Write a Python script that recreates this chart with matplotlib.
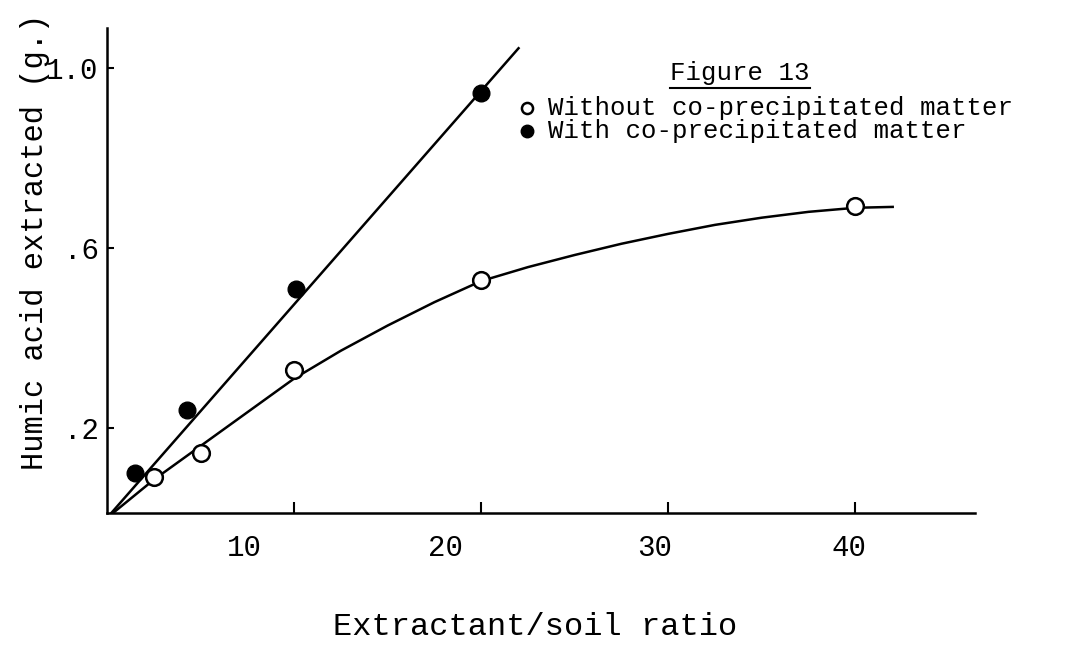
import matplotlib
matplotlib.use('Agg')
import matplotlib.pyplot as plt
from matplotlib.transforms import ScaledTranslation

# data
ratio_without = [2.5, 5, 10, 20, 40]
humic_without = [0.09, 0.145, 0.33, 0.53, 0.695]
ratio_with = [1.5, 4.3, 10.1, 20]
humic_with = [0.10, 0.24, 0.51, 0.945]

# hand drawn curve through the open circles
curve_x = [0, 2.5, 5, 7.5, 10, 12.5, 15, 17.5, 20, 22.5, 25, 27.5, 30,
           32.5, 35, 37.5, 40, 42]
curve_y = [0, 0.085, 0.16, 0.235, 0.31, 0.372, 0.428, 0.48, 0.527, 0.558,
           0.585, 0.61, 0.632, 0.652, 0.668, 0.681, 0.69, 0.692]
# straight line through the filled circles
line_x = [0, 22.0]
line_y = [0, 1.045]

xticks = [10, 20, 30, 40]
xticklabels = ['10', '20', '30', '40']
yticks = [0.2, 0.6, 1.0]
yticklabels = ['.2', '.6', '1.0']

mono = 'Liberation Mono'

fig = plt.figure(figsize=(10.78, 6.69), dpi=100)
ax = fig.add_axes([107/1078, 1 - 513/669, (975-107)/1078, (513-28)/669])

ax.plot(curve_x, curve_y, color='black', lw=1.8, zorder=2)
ax.plot(line_x, line_y, color='black', lw=1.8, zorder=2)
ax.plot(ratio_without, humic_without, 'o', ms=12, mfc='white', mec='black', mew=1.8, zorder=3)
ax.plot(ratio_with, humic_with, 'o', ms=12, mfc='black', mec='black', zorder=3)

ax.set_xlim(0, 46.4)
ax.set_ylim(0.011, 1.09)
for s in ['top', 'right']:
    ax.spines[s].set_visible(False)
for s in ['left', 'bottom']:
    ax.spines[s].set_linewidth(1.8)

ax.set_xticks(xticks)
ax.set_xticklabels(xticklabels, fontfamily=mono, fontsize=21)
ax.set_yticks(yticks)
ax.set_yticklabels(yticklabels, fontfamily=mono, fontsize=21)
ax.tick_params(axis='x', direction='in', length=8, width=1.5, pad=15)
ax.tick_params(axis='y', direction='in', length=5, width=1.5, pad=6)

# typed labels sit to the left of the tick marks
x_shift = [-50, -36, -14, -6]
for lab, dx in zip(ax.get_xticklabels(), x_shift):
    lab.set_transform(lab.get_transform() + ScaledTranslation(dx/100, 0, fig.dpi_scale_trans))

ax.set_ylabel('Humic acid extracted (g.)', fontfamily=mono, fontsize=22)
ax.yaxis.set_label_coords(-0.066, 0.56)
fig.text(535/1078, 1 - 627/669, 'Extractant/soil ratio', fontfamily=mono, fontsize=23,
         ha='center', va='center')

fig.text(740/1078, 1 - 73/669, 'Figure 13', fontfamily=mono, fontsize=18.5,
         ha='center', va='center')
fig.add_artist(plt.Line2D([670/1078, 810/1078], [1 - 88/669, 1 - 88/669], color='black', lw=1.5))

fig.lines.append(plt.Line2D([527/1078], [1 - 108/669], marker='o', ms=8, mfc='white',
                            mec='black', mew=1.8, transform=fig.transFigure, figure=fig))
fig.lines.append(plt.Line2D([527/1078], [1 - 131/669], marker='o', ms=9, mfc='black',
                            mec='black', transform=fig.transFigure, figure=fig))
fig.text(548/1078, 1 - 108/669, 'Without co-precipitated matter', fontfamily=mono,
         fontsize=18.5, va='center')
fig.text(548/1078, 1 - 131/669, 'With co-precipitated matter', fontfamily=mono,
         fontsize=18.5, va='center')

fig.savefig('out.png', dpi=100)
